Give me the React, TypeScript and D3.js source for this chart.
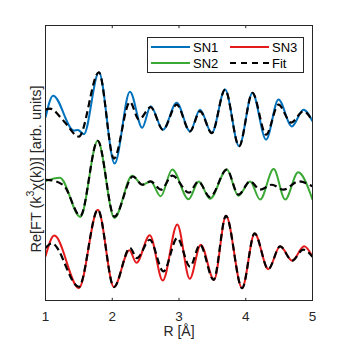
import React from 'react';
import * as d3 from 'd3';

// R positions (Å) and Re[FT] values (arb. units, offset per sample)
const rSN1 = [1.0, 1.114, 1.425, 1.485, 1.575, 1.8, 2.035, 2.265, 2.449, 2.575, 2.76, 2.965, 3.165, 3.315, 3.491, 3.69, 3.9, 4.1, 4.305, 4.49, 4.691, 4.865, 5.0];
const sn1 = [6.65, 7.45, 6.18, 6.2, 6.05, 8.3, 4.98, 7.59, 6.28, 7.06, 6.21, 7.19, 6.15, 6.94, 6.09, 7.67, 5.61, 7.55, 5.85, 7.31, 6.33, 6.94, 6.52];
const rFit1 = [1.0, 1.065, 1.275, 1.5, 1.8, 2.025, 2.265, 2.4, 2.575, 2.76, 2.965, 3.165, 3.315, 3.491, 3.69, 3.9, 4.1, 4.305, 4.49, 4.68, 4.865, 5.0];
const fit1 = [6.94, 6.98, 6.52, 5.96, 8.3, 5.16, 7.22, 6.58, 7.03, 6.21, 7.12, 6.15, 6.88, 6.09, 7.67, 5.61, 7.55, 6.03, 7.12, 6.47, 6.88, 6.52];

const rSN2 = [1.0, 1.215, 1.522, 1.782, 2.032, 2.299, 2.449, 2.575, 2.725, 2.899, 3.143, 3.296, 3.465, 3.716, 3.89, 4.065, 4.215, 4.418, 4.59, 4.785, 5.0];
const sn2 = [4.34, 4.46, 3.04, 5.81, 3.0, 4.54, 4.21, 4.33, 3.79, 4.76, 3.68, 4.33, 3.7, 4.76, 3.81, 4.33, 3.67, 4.78, 3.67, 4.66, 3.67];
const rFit2 = [1.0, 1.065, 1.275, 1.522, 1.782, 2.032, 2.31, 2.449, 2.575, 2.73, 2.899, 3.15, 3.29, 3.465, 3.716, 3.89, 4.065, 4.215, 4.391, 4.565, 4.79, 5.0];
const fit2 = [4.39, 4.38, 4.18, 3.08, 5.81, 3.05, 4.51, 4.21, 4.33, 4.03, 4.54, 3.92, 4.33, 3.76, 4.76, 3.85, 4.33, 4.03, 4.21, 4.03, 4.33, 4.15];

const rSN3 = [1.0, 1.132, 1.5, 1.785, 2.025, 2.257, 2.362, 2.562, 2.757, 2.974, 3.161, 3.326, 3.525, 3.704, 3.945, 4.133, 4.338, 4.515, 4.695, 4.875, 5.0];
const sn3 = [1.6, 2.36, 0.45, 3.3, 0.49, 1.83, 1.37, 2.37, 0.73, 2.76, 0.79, 2.03, 0.75, 3.08, 0.45, 2.44, 1.14, 1.97, 1.45, 1.97, 1.59];
const rFit3 = [1.0, 1.095, 1.5, 1.785, 2.025, 2.265, 2.37, 2.562, 2.767, 2.974, 3.165, 3.315, 3.518, 3.704, 3.945, 4.133, 4.338, 4.515, 4.695, 4.86, 5.0];
const fit3 = [1.91, 2.08, 0.5, 3.3, 0.49, 1.91, 1.54, 2.21, 1.06, 2.27, 1.23, 2.03, 0.75, 3.08, 0.45, 2.44, 1.14, 1.97, 1.45, 1.85, 1.59];

const xTicks = [1, 2, 3, 4, 5];
const seriesNames = ['SN1', 'SN2', 'SN3'];
const seriesColors = ['#0072BD', '#3BA935', '#E41A1C'];

const W = 346;
const H = 346;
const left = 45.5, right = 312.5, top = 25.5, bottom = 300.5;
const font = 'Liberation Sans, Arial, Helvetica, sans-serif';

const App = () => {
  const x = d3.scaleLinear().domain([1, 5]).range([left, right]);
  const y = d3.scaleLinear().domain([0, 10]).range([bottom, top]);

  const line = d3.line<[number, number]>()
    .x(d => x(d[0]))
    .y(d => y(d[1]))
    .curve(d3.curveMonotoneX);

  const zip = (r: number[], v: number[]) => r.map((d, i) => [d, v[i]] as [number, number]);

  const curves = [
    { data: zip(rSN1, sn1), fit: zip(rFit1, fit1), color: seriesColors[0] },
    { data: zip(rSN2, sn2), fit: zip(rFit2, fit2), color: seriesColors[1] },
    { data: zip(rSN3, sn3), fit: zip(rFit3, fit3), color: seriesColors[2] },
  ];

  const axisColor = '#262626';
  const tickLen = 2.7;

  // legend layout
  const lgX = 147.5, lgY = 37.5, lgW = 156, lgH = 35;
  const legendItems = [
    { name: seriesNames[0], color: seriesColors[0], dash: false, cx: 151, cy: 47 },
    { name: seriesNames[1], color: seriesColors[1], dash: false, cx: 151, cy: 63 },
    { name: seriesNames[2], color: seriesColors[2], dash: false, cx: 230, cy: 47 },
    { name: 'Fit', color: '#000', dash: true, cx: 230, cy: 63 },
  ];

  return (
    <svg width={W} height={H} style={{ position: 'absolute', left: 0, top: 0, background: '#fff' }}>
      <defs>
        <clipPath id="plotClip">
          <rect x={left} y={top} width={right - left} height={bottom - top} />
        </clipPath>
      </defs>
      <rect x={0} y={0} width={W} height={H} fill="#fff" />

      <g clipPath="url(#plotClip)">
        {curves.map((c, i) => (
          <g key={i}>
            <path d={line(c.data) || ''} fill="none" stroke={c.color} strokeWidth={2} />
            <path d={line(c.fit) || ''} fill="none" stroke="#000" strokeWidth={2.2} strokeDasharray="7 4" />
          </g>
        ))}
      </g>

      {/* box */}
      <rect x={left} y={top} width={right - left} height={bottom - top} fill="none" stroke={axisColor} strokeWidth={1} />

      {/* x ticks, inward on bottom and top */}
      {xTicks.map(t => (
        <g key={t}>
          <line x1={x(t)} x2={x(t)} y1={bottom} y2={bottom - tickLen} stroke={axisColor} />
          <line x1={x(t)} x2={x(t)} y1={top} y2={top + tickLen} stroke={axisColor} />
          <text x={x(t)} y={320.5} textAnchor="middle" fontFamily={font} fontSize={13.5} fill={axisColor}>{t}</text>
        </g>
      ))}

      <text x={(left + right) / 2} y={336} textAnchor="middle" fontFamily={font} fontSize={14} fill={axisColor}>R [Å]</text>

      <text transform="translate(40.5,169) rotate(-90)" textAnchor="middle" fontFamily={font} fontSize={14.5} fill={axisColor}>
        Re[FT (k<tspan dy={-7} fontSize={10.5}>3</tspan><tspan dy={7}>χ(k))] [arb. units]</tspan>
      </text>

      {/* legend */}
      <rect x={lgX} y={lgY} width={lgW} height={lgH} fill="#fff" stroke={axisColor} strokeWidth={1} />
      {legendItems.map(it => (
        <g key={it.name}>
          <line x1={it.cx} x2={it.cx + 39} y1={it.cy} y2={it.cy} stroke={it.color} strokeWidth={2}
            strokeDasharray={it.dash ? '6 5' : undefined} />
          <text x={it.cx + 42} y={it.cy + 4.6} fontFamily={font} fontSize={13} fill="#000">{it.name}</text>
        </g>
      ))}
    </svg>
  );
};

export default App;
